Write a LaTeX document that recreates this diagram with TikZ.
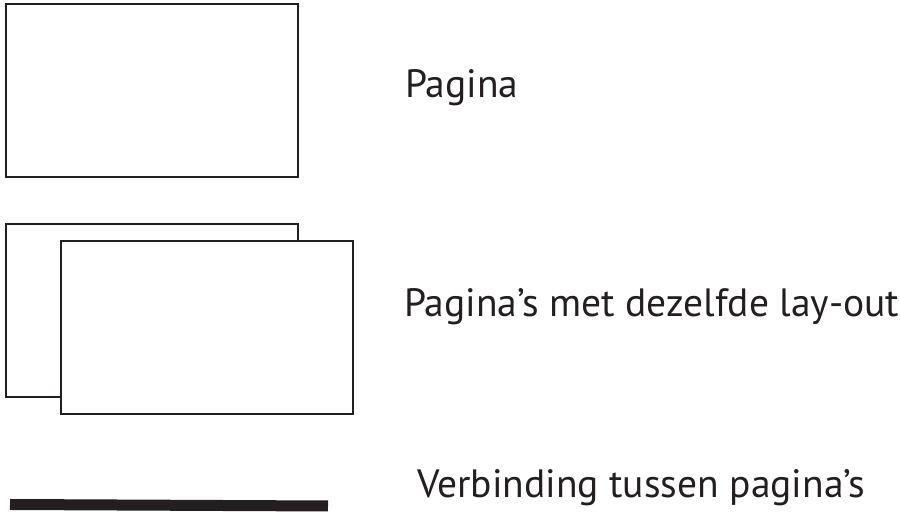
\documentclass[tikz,border=0pt]{standalone}
\usepackage{fontspec}
\setmainfont{PT Sans}
\usepackage{xcolor}
\definecolor{inkt}{RGB}{35,31,32}

\begin{document}
\begin{tikzpicture}[x=1pt, y=1pt] %legend with pages and a link
\useasboundingbox (0,0) rectangle (900,513);
\tikzset{
  page/.style={draw=inkt, line width=2pt, fill=white, minimum width=292pt, minimum height=173pt, inner sep=0pt, anchor=north west},
  uitleg/.style={anchor=base west, inner sep=0pt, text=inkt, font=\fontsize{39.5}{46}\selectfont}
}
\node [page] (pagina) at (5,510) {};
\node [page] (achter) at (5,290) {};
\node [page] (voor) at (60,273) {};

\coordinate (linkbegin) at (10,8.5);
\coordinate (linkeind) at (328,7);
\draw [inkt, line width=11pt] (linkbegin) -- (linkeind);

\node [uitleg] (tekstpagina) at (405,415) {Pagina};
\node [uitleg] (tekstlayout) at (404,196) {Pagina’s met dezelfde lay-out};
\node [uitleg] (tekstlink) at (417,15) {Verbinding tussen pagina’s};
\end{tikzpicture}
\end{document}
